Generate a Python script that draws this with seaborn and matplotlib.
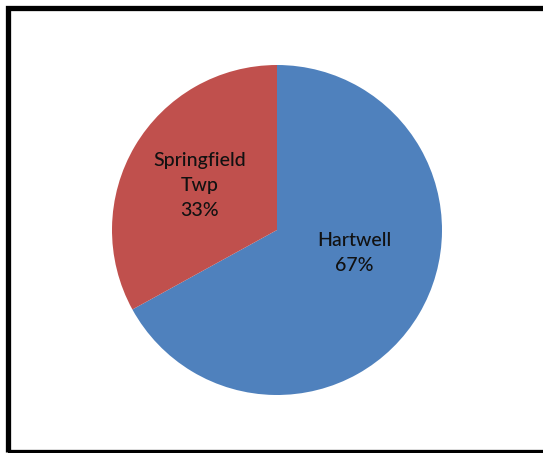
import numpy as np
import seaborn as sns
import matplotlib.pyplot as plt
from matplotlib.patches import Rectangle

# slice data
towns = ['Hartwell', 'Springfield\nTwp']
shares = [67, 33]
colors = ['#4F81BD', '#C0504D']

sns.set_style('white')
plt.rcParams['font.family'] = ['Lato', 'DejaVu Sans']

W, H = 543, 453
fig = plt.figure(figsize=(W / 100, H / 100), dpi=100)

# pie axes: centre (277, 230) px, radius 165 px
cx, cy, r = 277, 230, 165
ax = fig.add_axes([(cx - r) / W, (H - cy - r) / H, 2 * r / W, 2 * r / H])
wedges, texts = ax.pie(shares, colors=colors, startangle=90, counterclock=False,
                       labels=[f'{t}\n{s}%' for t, s in zip(towns, shares)],
                       labeldistance=0.5, radius=1,
                       wedgeprops=dict(linewidth=0),
                       textprops=dict(fontsize=14, ha='center', va='center',
                                      linespacing=1.55, color='#111111',
                                      fontweight='medium'))
texts[0].set_position((0.47, -0.14))
texts[1].set_position((-0.47, 0.27))
ax.set_xlim(-1, 1)
ax.set_ylim(-1, 1)
ax.set_aspect('equal')
ax.axis('off')

# chart frame
fig.patches.append(Rectangle((7.5 / W, 1 - 451.5 / H), (W + 10) / W, 444 / H,
                             transform=fig.transFigure, fill=False,
                             edgecolor='black', linewidth=3.8))

fig.savefig('out.png', dpi=100, facecolor='white')
